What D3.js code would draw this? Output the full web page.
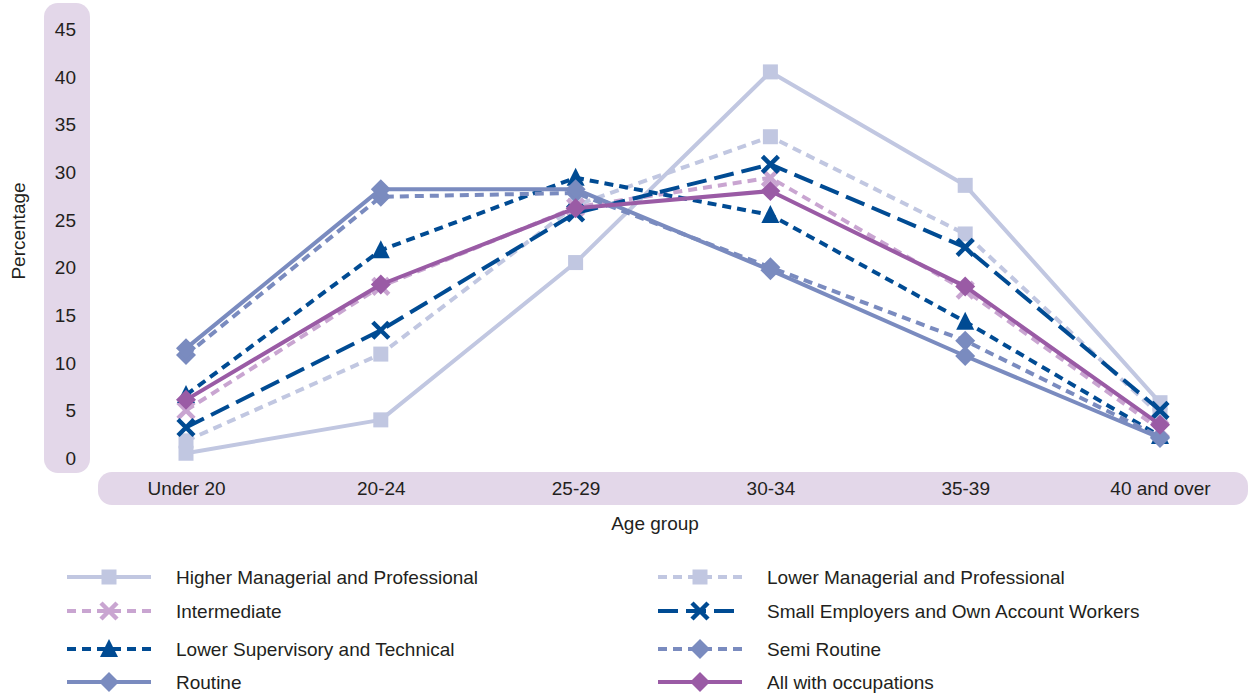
<!DOCTYPE html>
<html><head><meta charset="utf-8">
<script src="https://cdn.jsdelivr.net/npm/d3@7/dist/d3.min.js"></script>
<style>body{margin:0;background:#fff;font-family:"Liberation Sans",Arial,sans-serif;}</style>
</head><body><svg id="c" width="1249" height="697"></svg>
<script>
const categories = ["Under 20","20-24","25-29","30-34","35-39","40 and over"];
const yTicks = [0,5,10,15,20,25,30,35,40,45];
const higherManagerial = [0.5,4.0,20.5,40.5,28.6,5.8];
const lowerManagerial = [1.8,10.9,26.5,33.7,23.5,4.5];
const intermediate = [5.0,18.0,26.3,29.4,17.6,3.0];
const smallEmployers = [3.2,13.4,25.7,30.8,22.1,5.0];
const lowerSupervisory = [6.6,21.8,29.4,25.5,14.3,2.3];
const semiRoutine = [10.8,27.4,27.8,20.0,12.3,2.2];
const routine = [11.5,28.2,28.2,19.7,10.7,2.1];
const allOccupations = [6.1,18.2,26.2,28.0,18.0,3.5];

const series = [
 {name:"Higher Managerial and Professional", values:higherManagerial, color:"#c1c7e1", dash:null, marker:"square"},
 {name:"Lower Managerial and Professional", values:lowerManagerial, color:"#c1c7e1", dash:"9,6", marker:"square"},
 {name:"Intermediate", values:intermediate, color:"#c9a5d1", dash:"9,6", marker:"x"},
 {name:"Small Employers and Own Account Workers", values:smallEmployers, color:"#004b93", dash:"20,8", marker:"x"},
 {name:"Lower Supervisory and Technical", values:lowerSupervisory, color:"#004b93", dash:"9,6", marker:"triangle"},
 {name:"Semi Routine", values:semiRoutine, color:"#7a8bbf", dash:"9,6", marker:"diamond"},
 {name:"Routine", values:routine, color:"#7a8bbf", dash:null, marker:"diamond"},
 {name:"All with occupations", values:allOccupations, color:"#9a5ba5", dash:null, marker:"diamond"}
];

const svg = d3.select("#c");
const panel = "#e3d7e9";
const textColor = "#231f20";
const fs = 19;

const x = d3.scalePoint().domain(categories).range([186,1160]);
const y = d3.scaleLinear().domain([0,45]).range([458,29]);

// y axis panel
svg.append("rect").attr("x",44).attr("y",3).attr("width",46).attr("height",470).attr("rx",14).attr("fill",panel);
// x axis band
svg.append("rect").attr("x",98).attr("y",472).attr("width",1150).attr("height",33).attr("rx",14).attr("fill",panel);

const yAxis = d3.axisLeft(y).tickValues(yTicks).tickSize(0).tickPadding(0);
const gy = svg.append("g").attr("transform","translate(76,0)").call(yAxis);
gy.select(".domain").remove();
gy.selectAll("text").attr("font-size",fs).attr("fill",textColor).attr("font-family","Liberation Sans, Arial, sans-serif").attr("dy","0.35em");

const xAxis = d3.axisBottom(x).tickSize(0).tickPadding(0);
const gx = svg.append("g").attr("transform","translate(0,488)").call(xAxis);
gx.select(".domain").remove();
gx.selectAll("text").attr("font-size",fs).attr("fill",textColor).attr("font-family","Liberation Sans, Arial, sans-serif").attr("dy","0.35em");

svg.append("text").attr("x",655).attr("y",530).attr("text-anchor","middle").attr("font-size",fs).attr("fill",textColor).text("Age group");
svg.append("text").attr("transform","translate(25,231) rotate(-90)").attr("text-anchor","middle").attr("font-size",fs).attr("fill",textColor).text("Percentage");

function drawMarker(g, type, cx, cy, color){
  if(type==="square"){
    g.append("rect").attr("x",cx-7.5).attr("y",cy-7.5).attr("width",15).attr("height",15).attr("fill",color);
  } else if(type==="diamond"){
    g.append("path").attr("d",`M${cx},${cy-10}L${cx+10},${cy}L${cx},${cy+10}L${cx-10},${cy}Z`).attr("fill",color);
  } else if(type==="triangle"){
    g.append("path").attr("d",`M${cx},${cy-10}L${cx+9},${cy+8}L${cx-9},${cy+8}Z`).attr("fill",color);
  } else if(type==="x"){
    g.append("path").attr("d",`M${cx-8},${cy-8}L${cx+8},${cy+8}M${cx+8},${cy-8}L${cx-8},${cy+8}`).attr("stroke",color).attr("stroke-width",4.5).attr("fill","none");
  }
}

const line = d3.line().x((d,i)=>x(categories[i])).y(d=>y(d));
series.forEach(s=>{
  const g = svg.append("g");
  g.append("path").datum(s.values).attr("d",line).attr("fill","none").attr("stroke",s.color).attr("stroke-width",4)
    .attr("stroke-dasharray",s.dash).attr("stroke-linejoin","round");
  s.values.forEach((v,i)=>drawMarker(g,s.marker,x(categories[i]),y(v),s.color));
});

// legend
const legendRows = [577,611,649,682];
series.forEach((s,i)=>{
  const col = i%2, row = Math.floor(i/2);
  const lx = col===0 ? 67 : 658;
  const ly = legendRows[row];
  const g = svg.append("g");
  g.append("line").attr("x1",lx).attr("x2",lx+84).attr("y1",ly).attr("y2",ly).attr("stroke",s.color).attr("stroke-width",4).attr("stroke-dasharray",s.dash);
  drawMarker(g,s.marker,lx+42,ly,s.color);
  g.append("text").attr("x",lx+109).attr("y",ly).attr("dy","0.35em").attr("font-size",fs).attr("fill",textColor).text(s.name);
});
</script></body></html>
